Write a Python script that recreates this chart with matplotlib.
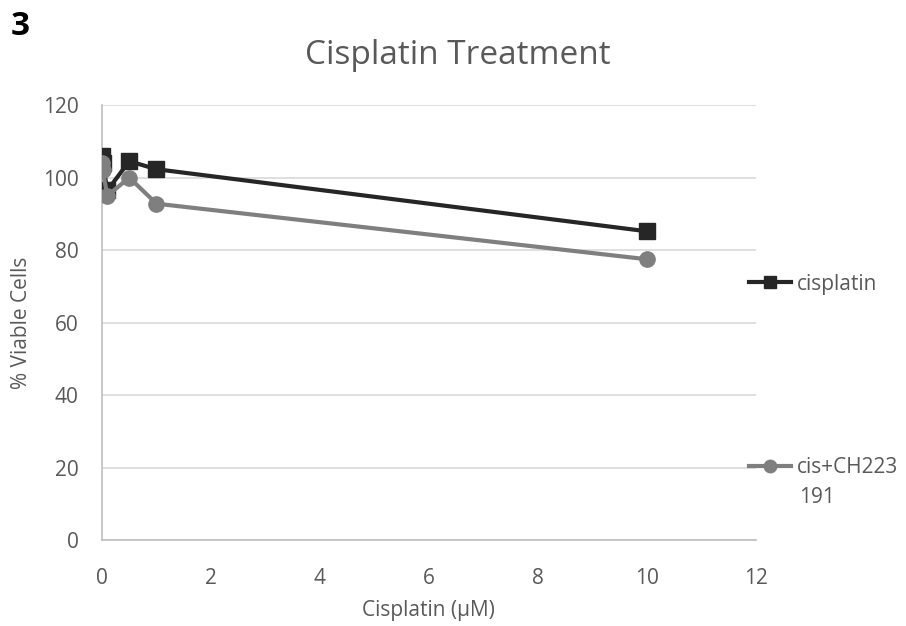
import matplotlib
matplotlib.use("Agg")
import matplotlib.pyplot as plt

# values
dose = [0, 0.01, 0.1, 0.5, 1, 10]
cisplatin = [106, 104, 96.5, 104.5, 102.3, 85.2]
cis_ch = [104, 102, 95, 100, 92.8, 77.5]
yticks = [0, 20, 40, 60, 80, 100, 120]
xticks = [0, 2, 4, 6, 8, 10, 12]

plt.rcParams["font.family"] = ["Open Sans", "DejaVu Sans"]
grey_txt = "#595959"
fs = 15

fig = plt.figure(figsize=(9.06, 6.26), dpi=100)
ax = fig.add_axes([0.1126, 0.1366, 0.7215, 0.6957])

l1, = ax.plot(dose, cisplatin, color="#262626", lw=3, marker="s", ms=11,
              label="cisplatin", zorder=3)
l2, = ax.plot(dose, cis_ch, color="#7f7f7f", lw=3, marker="o", ms=11,
              label="cis+CH223", zorder=3)

ax.set_xlim(0, 12)
ax.set_ylim(0, 120)
ax.set_xticks(xticks)
ax.set_yticks(yticks)
ax.yaxis.grid(True, color="#d9d9d9", lw=1.2)
ax.set_axisbelow(True)
for s in ["top", "right"]:
    ax.spines[s].set_visible(False)
for s in ["left", "bottom"]:
    ax.spines[s].set_color("#bfbfbf")
    ax.spines[s].set_linewidth(1.2)
ax.tick_params(axis="both", length=0, labelsize=fs, labelcolor=grey_txt)
ax.tick_params(axis="x", pad=20)
ax.tick_params(axis="y", pad=17)

ax.set_xlabel("Cisplatin (\u00b5M)", fontsize=fs, color=grey_txt, labelpad=8)
ax.set_ylabel("% Viable Cells", fontsize=fs, color=grey_txt, labelpad=8)
fig.text(0.505, 0.912, "Cisplatin Treatment", fontsize=24, color=grey_txt,
         ha="center", va="center")
fig.text(0.012, 0.957, "3", fontsize=24, fontweight="bold", ha="left", va="center")

legend_kw = dict(frameon=False, fontsize=fs, handlelength=2.0, handletextpad=0.3,
                 labelcolor=grey_txt, borderpad=0, borderaxespad=0)
leg1 = fig.legend(handles=[l1], loc="center left", bbox_to_anchor=(0.827, 0.546),
                  **legend_kw)
leg2 = fig.legend(handles=[l2], loc="center left", bbox_to_anchor=(0.827, 0.253),
                  **legend_kw)
for leg in (leg1, leg2):
    for h in leg.legend_handles:
        h.set_markersize(9)
fig.text(0.882, 0.205, "191", fontsize=fs, color=grey_txt, ha="left", va="center")

fig.savefig("out.png", dpi=100)
